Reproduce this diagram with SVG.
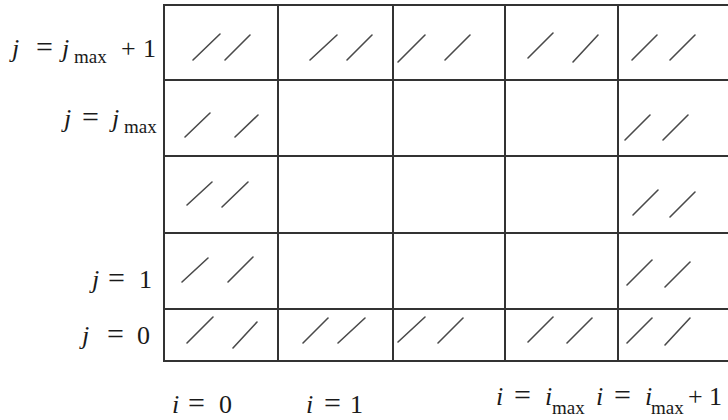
<svg xmlns="http://www.w3.org/2000/svg" width="728" height="420" viewBox="0 0 728 420">
<style>
.bg{fill:#ffffff}
.grid line{stroke:#333;stroke-width:2}
.hatch line{stroke:#4a4a4a;stroke-width:1.6;stroke-linecap:round}
.lbl{font-family:"Liberation Serif","DejaVu Serif",serif;font-size:26px;fill:#1a1a1a}
.it{font-style:italic}
.eq{font-size:30px}
.sub{font-size:19px}
</style>
<rect class="bg" x="0" y="0" width="728" height="420"/>
<g id="grid" class="grid">
<line x1="163" y1="5" x2="728" y2="5"/>
<line x1="164" y1="80" x2="728" y2="80"/>
<line x1="164" y1="156" x2="728" y2="156"/>
<line x1="164" y1="233" x2="728" y2="233"/>
<line x1="164" y1="309" x2="728" y2="309"/>
<line x1="163" y1="361" x2="728" y2="361"/>
<line x1="164" y1="4" x2="164" y2="362"/>
<line x1="278" y1="5" x2="278" y2="361"/>
<line x1="393" y1="5" x2="393" y2="361"/>
<line x1="505" y1="5" x2="505" y2="361"/>
<line x1="618" y1="5" x2="618" y2="361"/>
</g>
<g id="hatches" class="hatch">
<line x1="193" y1="60" x2="220" y2="34"/><line x1="225" y1="60" x2="250" y2="35"/>
<line x1="310" y1="60" x2="337" y2="35"/><line x1="347" y1="60" x2="372" y2="35"/>
<line x1="398" y1="62" x2="425" y2="35"/><line x1="445" y1="60" x2="470" y2="35"/>
<line x1="528" y1="58" x2="553" y2="33"/><line x1="573" y1="62" x2="598" y2="35"/>
<line x1="632" y1="60" x2="657" y2="35"/><line x1="670" y1="60" x2="695" y2="35"/>
<line x1="185" y1="137" x2="210" y2="113"/><line x1="235" y1="137" x2="258" y2="115"/>
<line x1="625" y1="140" x2="650" y2="115"/><line x1="663" y1="140" x2="688" y2="115"/>
<line x1="187" y1="205" x2="212" y2="182"/><line x1="222" y1="207" x2="248" y2="182"/>
<line x1="633" y1="215" x2="658" y2="190"/><line x1="670" y1="217" x2="695" y2="192"/>
<line x1="182" y1="282" x2="208" y2="258"/><line x1="228" y1="282" x2="253" y2="257"/>
<line x1="627" y1="285" x2="652" y2="260"/><line x1="665" y1="287" x2="690" y2="262"/>
<line x1="187" y1="343" x2="213" y2="317"/><line x1="233" y1="348" x2="257" y2="322"/>
<line x1="303" y1="343" x2="328" y2="318"/><line x1="338" y1="343" x2="365" y2="318"/>
<line x1="398" y1="342" x2="425" y2="317"/><line x1="438" y1="343" x2="463" y2="318"/>
<line x1="528" y1="342" x2="553" y2="317"/><line x1="567" y1="343" x2="592" y2="318"/>
<line x1="627" y1="343" x2="652" y2="318"/><line x1="665" y1="345" x2="690" y2="318"/>
</g>
<g id="labels">
<text id="lbl-jmax1" class="lbl" y="57"><tspan class="it" x="12">j</tspan><tspan class="eq" x="36">=</tspan><tspan class="it" x="62">j</tspan><tspan class="sub" x="74" y="63">max</tspan><tspan x="121" y="57">+</tspan><tspan x="143">1</tspan></text>
<text id="lbl-jmax" class="lbl" y="127"><tspan class="it" x="64">j</tspan><tspan class="eq" x="82">=</tspan><tspan class="it" x="112">j</tspan><tspan class="sub" x="124" y="133">max</tspan></text>
<text id="lbl-j1" class="lbl" y="288"><tspan class="it" x="92">j</tspan><tspan class="eq" x="108">=</tspan><tspan x="139">1</tspan></text>
<text id="lbl-j0" class="lbl" y="344"><tspan class="it" x="82">j</tspan><tspan class="eq" x="107">=</tspan><tspan x="137">0</tspan></text>
<text id="lbl-i0" class="lbl" y="413"><tspan class="it" x="172">i</tspan><tspan class="eq" x="188">=</tspan><tspan x="219">0</tspan></text>
<text id="lbl-i1" class="lbl" y="413"><tspan class="it" x="306">i</tspan><tspan class="eq" x="324">=</tspan><tspan x="350">1</tspan></text>
<text id="lbl-imax" class="lbl" y="405"><tspan class="it" x="496">i</tspan><tspan class="eq" x="514">=</tspan><tspan class="it" x="545">i</tspan><tspan class="sub" x="552" y="414">max</tspan></text>
<text id="lbl-imax1" class="lbl" y="405"><tspan class="it" x="596">i</tspan><tspan class="eq" x="614">=</tspan><tspan class="it" x="645">i</tspan><tspan class="sub" x="651" y="414">max</tspan><tspan x="688" y="405">+</tspan><tspan x="709">1</tspan></text>
</g>
</svg>
